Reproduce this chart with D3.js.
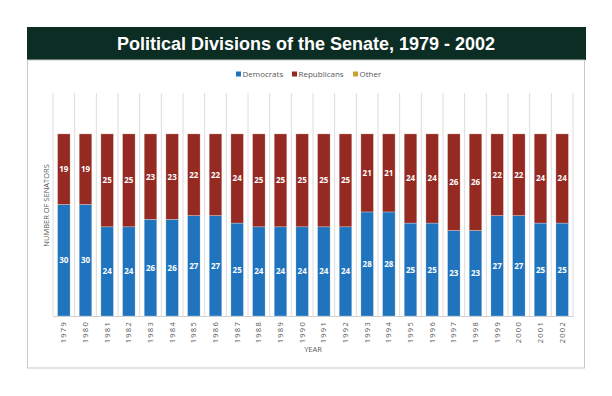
<!DOCTYPE html>
<html>
<head>
<meta charset="utf-8">
<script src="https://cdn.jsdelivr.net/npm/d3@7"></script>
<style>
  body { margin: 0; background: #fff; }
  svg { display: block; }
  text { font-family: "Open Sans", "Noto Sans", sans-serif; }
</style>
</head>
<body>
<div id="chart"></div>
<script>
var years = ['1979','1980','1981','1982','1983','1984','1985','1986','1987','1988','1989','1990',
             '1991','1992','1993','1994','1995','1996','1997','1998','1999','2000','2001','2002']
var democrats   = [30,30,24,24,26,26,27,27,25,24,24,24,24,24,28,28,25,25,23,23,27,27,25,25]
var republicans = [19,19,25,25,23,23,22,22,24,25,25,25,25,25,21,21,24,24,26,26,22,22,24,24]
var other       = [0,0,0,0,0,0,0,0,0,0,0,0,0,0,0,0,0,0,0,0,0,0,0,0]
var seriesNames = ['Democrats', 'Republicans', 'Other']
var colors = ['#1f74bd', '#952a23', '#c9a033']

var W = 612, H = 396
var margin = {left: 53, right: 39, top: 93, bottom: 80}

var svg = d3.select('#chart').append('svg').attr('width', W).attr('height', H)

// title bar + panel
svg.append('rect').attr('x', 27).attr('y', 27).attr('width', 559).attr('height', 33).attr('fill', '#0c2d24')
svg.append('text').attr('x', 306).attr('y', 50).attr('text-anchor', 'middle')
  .attr('fill', '#fff').style('font-family', '"Liberation Sans", Arial, sans-serif')
  .style('font-weight', 'bold').style('font-size', '18px')
  .text('Political Divisions of the Senate, 1979 - 2002')
svg.append('rect').attr('x', 27.5).attr('y', 60).attr('width', 557).attr('height', 308)
  .attr('fill', 'none').attr('stroke', '#c8c8c8')

var rows = years.map(function(y, i){
  return {year: y, Democrats: democrats[i], Republicans: republicans[i], Other: other[i]}
})
var stacked = d3.stack().keys(seriesNames)(rows)

var x = d3.scaleBand().domain(years).range([margin.left, W - margin.right]).paddingInner(0.42).paddingOuter(0.21)
var y = d3.scaleLinear().domain([0, 60]).range([H - margin.bottom, margin.top])

// vertical grid lines between categories
var step = x.step()
var bounds = d3.range(years.length + 1).map(function(i){ return margin.left + i * step })
svg.append('g').selectAll('line').data(bounds).join('line')
  .attr('x1', d => d).attr('x2', d => d)
  .attr('y1', y(60)).attr('y2', y(0))
  .attr('stroke', '#dcdcdc').attr('stroke-width', 1)

// bars
var layer = svg.append('g').selectAll('g').data(stacked).join('g')
  .attr('fill', (d, i) => colors[i])
layer.selectAll('rect').data(d => d).join('rect')
  .attr('x', d => x(d.data.year))
  .attr('width', x.bandwidth())
  .attr('y', d => y(d[1]))
  .attr('height', d => y(d[0]) - y(d[1]))
  .attr('stroke', 'rgba(255,255,255,0.45)').attr('stroke-width', 0.6)

// value labels
var lab = svg.append('g').selectAll('g').data(stacked.slice(0, 2)).join('g')
lab.selectAll('text').data(d => d).join('text')
  .attr('x', d => x(d.data.year) + x.bandwidth() / 2)
  .attr('y', d => (y(d[0]) + y(d[1])) / 2 + 3)
  .attr('text-anchor', 'middle').attr('fill', '#fff')
  .style('font-size', '8px').style('font-weight', 'bold')
  .text(d => d[1] - d[0])

// x axis
var xAxis = svg.append('g').attr('transform', 'translate(0,' + y(0) + ')')
  .call(d3.axisBottom(x).tickSize(0).tickPadding(0))
xAxis.select('.domain').attr('stroke', '#d0d0d0')
xAxis.selectAll('text')
  .attr('transform', 'rotate(-90)')
  .attr('x', -5).attr('y', 0).attr('dy', '0.32em')
  .attr('text-anchor', 'end')
  .attr('fill', '#595959')
  .style('font-size', '7.5px').style('letter-spacing', '1.3px')
  .style('font-family', '"Open Sans", sans-serif')

svg.append('text').attr('x', (margin.left + W - margin.right) / 2).attr('y', 352)
  .attr('text-anchor', 'middle').attr('fill', '#595959').style('font-size', '7.5px').text('YEAR')
svg.append('text').attr('transform', 'translate(49,' + ((y(0) + y(60)) / 2 + 1) + ') rotate(-90)')
  .attr('text-anchor', 'middle').attr('fill', '#595959').style('font-size', '7.5px')
  .text('NUMBER OF SENATORS')

// legend
var legX = [236, 292, 353]
var leg = svg.append('g').selectAll('g').data(seriesNames).join('g')
  .attr('transform', (d, i) => 'translate(' + legX[i] + ',74)')
leg.append('rect').attr('x', 0).attr('y', -2.5).attr('width', 5).attr('height', 5).attr('fill', (d, i) => colors[i])
leg.append('text').attr('x', 6.5).attr('y', 2.7).attr('fill', '#595959').style('font-size', '8px').text(d => d)
</script>
</body>
</html>
